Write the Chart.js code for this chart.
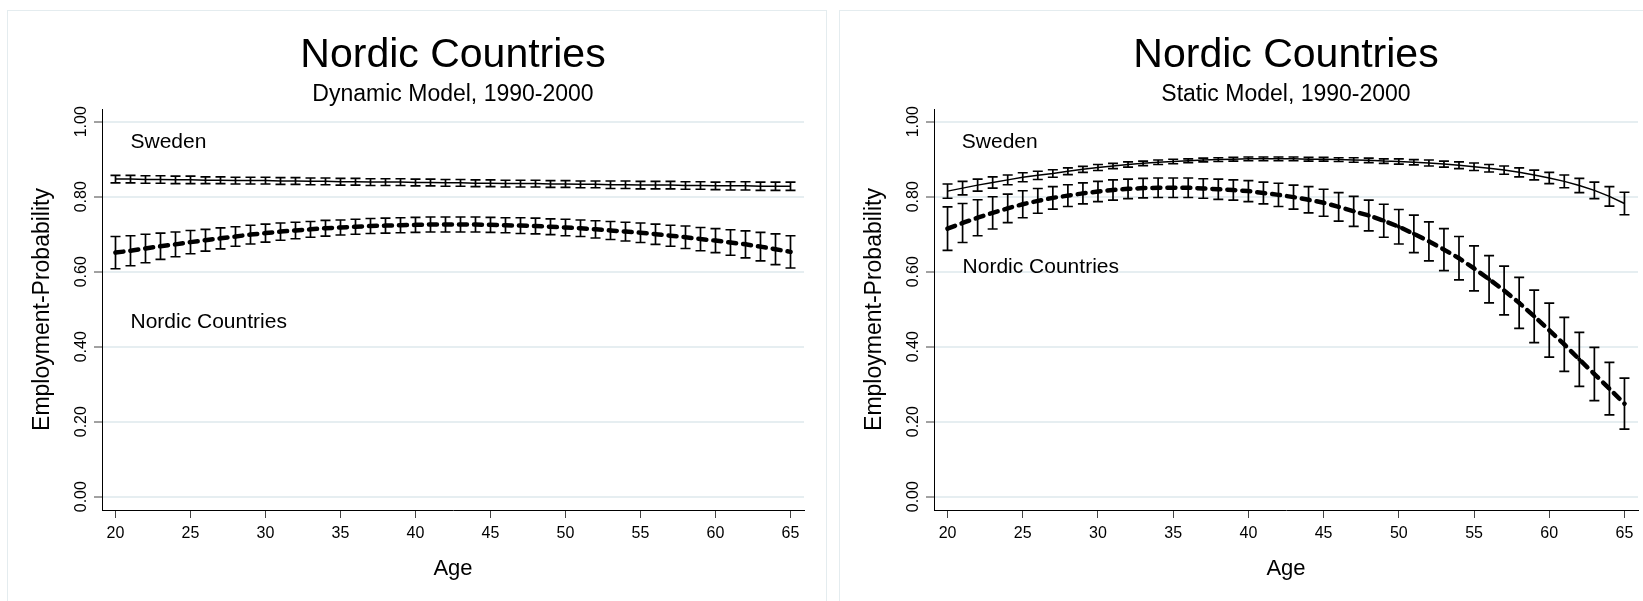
<!DOCTYPE html>
<html>
<head>
<meta charset="utf-8">
<script src="https://cdn.jsdelivr.net/npm/chart.js@4.4.1/dist/chart.umd.min.js"></script>
<style>
body{margin:0;background:#fff;width:1643px;height:601px;overflow:hidden;position:relative}
.panel{position:absolute;top:10px;height:600px;border:1px solid #e4ecef;box-sizing:border-box}
.box{position:absolute;top:0;height:601px}
</style>
</head>
<body>
<div class="panel" style="left:7px;width:820px"></div>
<div class="panel" style="left:839px;width:820px"></div>
<div class="box" style="left:0;width:826px"><canvas id="dyn"></canvas></div>
<div class="box" style="left:832px;width:811px"><canvas id="stat"></canvas></div>
<script>
// Ages and axis ticks
const ages = [20,21,22,23,24,25,26,27,28,29,30,31,32,33,34,35,36,37,38,39,40,41,42,43,44,45,46,47,48,49,50,51,52,53,54,55,56,57,58,59,60,61,62,63,64,65];
const xTicks = [20,25,30,35,40,45,50,55,60,65];
const yTicks = [0,0.2,0.4,0.6,0.8,1];

// Dynamic model (point estimate, half-width of CI)
const dynSweden = [.847,.847,.846,.846,.845,.845,.844,.844,.843,.843,.843,.842,.842,.841,.841,.840,.840,.839,.839,.839,.838,.838,.837,.837,.836,.836,.835,.835,.835,.834,.834,.833,.833,.832,.832,.831,.831,.831,.830,.830,.829,.829,.829,.828,.828,.828];
const dynSwedenCi = [.010,.010,.010,.010,.010,.010,.009,.009,.009,.009,.009,.009,.009,.009,.009,.009,.009,.009,.009,.009,.009,.009,.009,.009,.009,.009,.009,.009,.009,.009,.009,.009,.009,.010,.010,.010,.010,.010,.010,.010,.010,.011,.011,.011,.011,.011];
const dynNordic = [.651,.656,.662,.668,.673,.679,.684,.689,.694,.699,.703,.707,.710,.713,.716,.718,.720,.722,.723,.724,.725,.726,.726,.726,.726,.725,.724,.723,.722,.720,.718,.716,.713,.710,.707,.704,.700,.696,.692,.687,.683,.678,.673,.667,.660,.653];
const dynNordicCi = [.043,.040,.038,.035,.033,.031,.029,.028,.026,.025,.024,.023,.022,.021,.021,.020,.020,.020,.020,.020,.020,.020,.020,.020,.020,.020,.020,.021,.021,.021,.022,.022,.023,.024,.025,.026,.027,.028,.030,.031,.032,.034,.036,.038,.041,.043];

// Static model
const statSweden = [.815,.823,.831,.838,.845,.852,.857,.862,.868,.873,.878,.882,.886,.889,.892,.894,.896,.898,.899,.900,.901,.901,.901,.901,.900,.900,.899,.898,.897,.895,.894,.892,.890,.887,.884,.880,.876,.871,.865,.858,.850,.841,.830,.817,.801,.782];
const statSwedenCi = [.019,.018,.016,.015,.013,.012,.011,.010,.009,.008,.008,.007,.007,.006,.006,.006,.005,.005,.005,.005,.005,.005,.005,.005,.005,.005,.005,.006,.006,.006,.007,.007,.008,.008,.009,.010,.010,.011,.012,.013,.015,.017,.019,.022,.026,.030];
const statNordic = [.715,.730,.744,.757,.769,.780,.789,.797,.803,.809,.814,.818,.821,.823,.824,.824,.824,.822,.820,.818,.815,.810,.805,.799,.792,.784,.773,.761,.750,.736,.720,.701,.681,.659,.636,.609,.580,.550,.517,.481,.444,.406,.366,.327,.288,.248];
const statNordicCi = [.058,.052,.048,.043,.038,.036,.033,.030,.029,.028,.027,.027,.026,.026,.026,.026,.026,.026,.027,.027,.028,.029,.031,.032,.035,.036,.038,.040,.041,.044,.046,.050,.052,.056,.058,.060,.063,.065,.068,.070,.072,.072,.072,.071,.070,.068];

const FONT = '"Liberation Sans", Arial, Helvetica, sans-serif';

// caps + stems drawn through the chart scales
const errorBars = {
  id:'errorBars',
  afterDatasetsDraw(chart){
    const {ctx, scales:{x, y}} = chart;
    ctx.save();
    ctx.strokeStyle = '#000';
    ctx.lineWidth = 1.7;
    chart.data.datasets.forEach(ds=>{
      ds.data.forEach((p,i)=>{
        const px = x.getPixelForValue(p.x);
        const top = y.getPixelForValue(p.y + ds.ci[i]);
        const bot = y.getPixelForValue(p.y - ds.ci[i]);
        ctx.beginPath();
        ctx.moveTo(px, top); ctx.lineTo(px, bot);
        ctx.moveTo(px-5, top); ctx.lineTo(px+5, top);
        ctx.moveTo(px-5, bot); ctx.lineTo(px+5, bot);
        ctx.stroke();
      });
    });
    ctx.restore();
  }
};

// text labels placed at data coordinates
function notes(items){
  return {
    id:'notes',
    afterDraw(chart){
      const {ctx, scales:{x, y}} = chart;
      ctx.save();
      ctx.font = '21px ' + FONT;
      ctx.fillStyle = '#000';
      ctx.textAlign = 'left';
      ctx.textBaseline = 'middle';
      items.forEach(n=>ctx.fillText(n.text, x.getPixelForValue(n.x), y.getPixelForValue(n.y)));
      ctx.restore();
    }
  };
}

function pts(vals){ return ages.map((a,i)=>({x:a, y:vals[i]})); }

function makeChart(id, sub, sweden, swedenCi, nordic, nordicCi, labels, padRight){
  const ctx = document.getElementById(id).getContext('2d');
  return new Chart(ctx, {
    type:'line',
    data:{
      datasets:[
        {label:'Sweden', data:pts(sweden), ci:swedenCi, borderColor:'#000', borderWidth:1.5, pointRadius:0, tension:0},
        {label:'Nordic Countries', data:pts(nordic), ci:nordicCi, borderColor:'#000', borderWidth:4.5,
         borderDash:[8,7], borderCapStyle:'round', pointRadius:2, pointBackgroundColor:'#000', pointBorderWidth:0, tension:0}
      ]
    },
    options:{
      responsive:true, maintainAspectRatio:false, animation:false,
      layout:{padding:{left:0, right:padRight, top:0, bottom:0}},
      plugins:{
        legend:{display:false},
        tooltip:{enabled:false},
        title:{display:true, text:'Nordic Countries', fullSize:false, color:'#000',
          font:{family:FONT, size:41, weight:'normal', lineHeight:1}, padding:{top:35.5, bottom:0}},
        subtitle:{display:true, text:sub, fullSize:false, color:'#000',
          font:{family:FONT, size:23, weight:'normal', lineHeight:1}, padding:{top:7, bottom:2.5}}
      },
      scales:{
        x:{
          type:'linear', min:19.1, max:65.9,
          afterBuildTicks:s=>{ s.ticks = xTicks.map(v=>({value:v})); },
          afterFit:s=>{ s.height = 91; },
          grid:{drawOnChartArea:false, drawTicks:true, tickLength:8, tickColor:'#444', tickWidth:1},
          border:{display:true, color:'#000', width:1},
          ticks:{color:'#000', font:{family:FONT, size:16}, padding:6, maxRotation:0, autoSkip:false},
          title:{display:true, text:'Age', color:'#000', font:{family:FONT, size:22}, padding:{top:0, bottom:19}}
        },
        y:{
          min:-0.0355, max:1.034,
          afterBuildTicks:s=>{ s.ticks = yTicks.map(v=>({value:v})); },
          afterFit:s=>{ s.width = 102; },
          grid:{color:'#e6eef1', lineWidth:2, tickLength:8, tickColor:'#444', tickWidth:1},
          border:{display:true, color:'#000', width:1},
          ticks:{color:'#000', font:{family:FONT, size:16}, padding:-3.5, minRotation:90, maxRotation:90,
            crossAlign:'center', autoSkip:false, callback:v=>Number(v).toFixed(2)},
          title:{display:true, text:'Employment-Probability', color:'#000', font:{family:FONT, size:23}, padding:{top:29, bottom:0}}
        }
      }
    },
    plugins:[errorBars, notes(labels)]
  });
}

makeChart('dyn', 'Dynamic Model, 1990-2000', dynSweden, dynSwedenCi, dynNordic, dynNordicCi,
  [{text:'Sweden', x:21, y:0.945}, {text:'Nordic Countries', x:21, y:0.465}], 22);
makeChart('stat', 'Static Model, 1990-2000', statSweden, statSwedenCi, statNordic, statNordicCi,
  [{text:'Sweden', x:20.95, y:0.945}, {text:'Nordic Countries', x:21, y:0.611}], 5);
</script>
</body>
</html>
